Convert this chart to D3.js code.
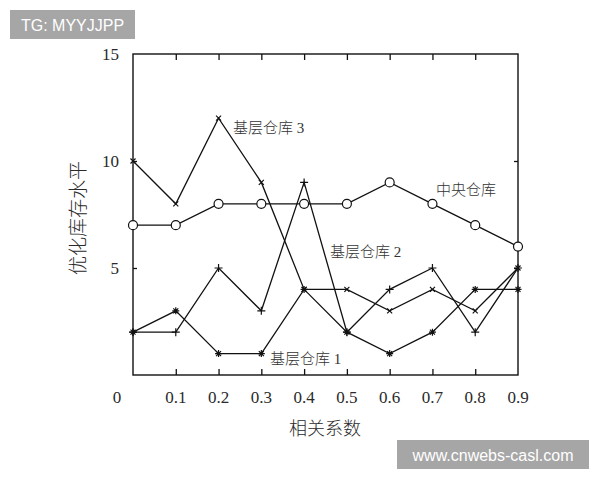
<!DOCTYPE html>
<html>
<head>
<meta charset="utf-8">
<script src="https://cdn.jsdelivr.net/npm/d3@7"></script>
<style>
  body { margin: 0; background: #fff; }
  svg { display: block; }
</style>
</head>
<body>
<div class="board"></div>
<script>
var width = 600, height = 480;

// correlation coefficient
var coef = [0, 0.1, 0.2, 0.3, 0.4, 0.5, 0.6, 0.7, 0.8, 0.9];
var central = [7, 7, 8, 8, 8, 8, 9, 8, 7, 6];
var base1 = [2, 3, 1, 1, 4, 2, 1, 2, 4, 4];
var base2 = [2, 2, 5, 3, 9, 2, 4, 5, 2, 5];
var base3 = [10, 8, 12, 9, 4, 4, 3, 4, 3, 5];
var xTicks = [0.1, 0.2, 0.3, 0.4, 0.5, 0.6, 0.7, 0.8];
var xLabels = [0.1, 0.2, 0.3, 0.4, 0.5, 0.6, 0.7, 0.8, 0.9];
var yTicks = [5, 10, 15];

var serif = '"Liberation Serif", "Noto Sans CJK SC", serif';
var ink = '#2a2a2a';

var svg = d3.select('.board').append('svg')
  .attr('width', width)
  .attr('height', height);

var x = d3.scaleLinear().domain([0, 0.9]).range([133, 518]);
var y = d3.scaleLinear().domain([0, 15]).range([375, 54]);

// frame
svg.append('rect')
  .attr('x', x(0)).attr('y', y(15))
  .attr('width', x(0.9) - x(0)).attr('height', y(0) - y(15))
  .attr('fill', 'none').attr('stroke', '#111').attr('stroke-width', 1.4);

// inward ticks
var tickLen = 6;
svg.append('g').attr('transform', 'translate(0,' + y(0) + ')')
  .call(d3.axisBottom(x).tickValues(xTicks).tickSize(-tickLen).tickFormat(''))
  .call(function(g) { g.select('.domain').remove(); });
svg.append('g').attr('transform', 'translate(0,' + y(15) + ')')
  .call(d3.axisTop(x).tickValues(xTicks).tickSize(-tickLen).tickFormat(''))
  .call(function(g) { g.select('.domain').remove(); });
svg.append('g').attr('transform', 'translate(' + x(0) + ',0)')
  .call(d3.axisLeft(y).tickValues([5, 10]).tickSize(-4).tickFormat(''))
  .call(function(g) { g.select('.domain').remove(); });
svg.append('g').attr('transform', 'translate(' + x(0.9) + ',0)')
  .call(d3.axisRight(y).tickValues([5, 10]).tickSize(-4).tickFormat(''))
  .call(function(g) { g.select('.domain').remove(); });
svg.selectAll('.tick line').attr('stroke', '#111').attr('stroke-width', 1.3);

// tick labels
svg.selectAll('.xlab').data(xLabels).enter().append('text')
  .attr('x', function(d) { return x(d); })
  .attr('y', 403)
  .attr('text-anchor', 'middle')
  .attr('font-family', serif).attr('font-size', 17).attr('fill', ink)
  .text(function(d) { return d; });
svg.append('text')
  .attr('x', 117).attr('y', 403)
  .attr('text-anchor', 'middle')
  .attr('font-family', serif).attr('font-size', 17).attr('fill', ink)
  .text('0');
svg.selectAll('.ylab').data(yTicks).enter().append('text')
  .attr('x', 119)
  .attr('y', function(d) { return y(d) + 6; })
  .attr('text-anchor', 'end')
  .attr('font-family', serif).attr('font-size', 17).attr('fill', ink)
  .text(function(d) { return d; });

// axis titles
svg.append('text')
  .attr('x', 325).attr('y', 435)
  .attr('text-anchor', 'middle')
  .attr('font-family', serif).attr('font-size', 18).attr('font-weight', 300).attr('fill', ink)
  .text('相关系数');
svg.append('text')
  .attr('transform', 'translate(85,218) rotate(-90)')
  .attr('text-anchor', 'middle')
  .attr('font-family', serif).attr('font-size', 19).attr('font-weight', 300).attr('fill', ink)
  .text('优化库存水平');

// series
var line = d3.line()
  .x(function(d, i) { return x(coef[i]); })
  .y(function(d) { return y(d); });

var series = [
  {name: 'central', values: central, marker: 'circle'},
  {name: 'base3', values: base3, marker: 'cross'},
  {name: 'base2', values: base2, marker: 'plus'},
  {name: 'base1', values: base1, marker: 'star'}
];

series.forEach(function(s) {
  svg.append('path')
    .datum(s.values)
    .attr('d', line)
    .attr('fill', 'none')
    .attr('stroke', '#111')
    .attr('stroke-width', 1.3);

  var pts = svg.selectAll('.m-' + s.name).data(s.values).enter().append('g')
    .attr('class', 'm-' + s.name)
    .attr('transform', function(d, i) { return 'translate(' + x(coef[i]) + ',' + y(d) + ')'; });

  if (s.marker === 'circle') {
    pts.append('circle').attr('r', 4.5)
      .attr('fill', '#fff').attr('stroke', '#111').attr('stroke-width', 1.2);
  } else {
    var p = '';
    if (s.marker === 'plus') p += 'M-4,0H4M0,-4V4';
    if (s.marker === 'star') p += 'M-3.5,0H3.5M0,-3.5V3.5M-2.5,-2.5L2.5,2.5M-2.5,2.5L2.5,-2.5';
    if (s.marker === 'cross') p += 'M-2.5,-2.5L2.5,2.5M-2.5,2.5L2.5,-2.5';
    pts.append('path').attr('d', p)
      .attr('fill', 'none').attr('stroke', '#111').attr('stroke-width', 1.2);
  }
});

// series labels
var labels = [
  {text: '基层仓库 3', x: 233, y: 133},
  {text: '中央仓库', x: 436, y: 195},
  {text: '基层仓库 2', x: 330, y: 257},
  {text: '基层仓库 1', x: 270, y: 364}
];
svg.selectAll('.slab').data(labels).enter().append('text')
  .attr('x', function(d) { return d.x; })
  .attr('y', function(d) { return d.y; })
  .attr('font-family', serif).attr('font-size', 15).attr('font-weight', 300).attr('fill', '#333')
  .text(function(d) { return d.text; });

// watermarks
var marks = [
  {text: 'TG: MYYJJPP', x: 10, y: 10, w: 125, h: 29},
  {text: 'www.cnwebs-casl.com', x: 397, y: 440, w: 192, h: 29}
];
marks.forEach(function(m) {
  svg.append('rect')
    .attr('x', m.x).attr('y', m.y).attr('width', m.w).attr('height', m.h)
    .attr('fill', '#a6a6a6');
  svg.append('text')
    .attr('x', m.x + m.w / 2).attr('y', m.y + m.h / 2 + 6)
    .attr('text-anchor', 'middle')
    .attr('font-family', '"Liberation Sans", Arial, sans-serif')
    .attr('font-size', 16).attr('fill', '#fff')
    .text(m.text);
});
</script>
</body>
</html>
